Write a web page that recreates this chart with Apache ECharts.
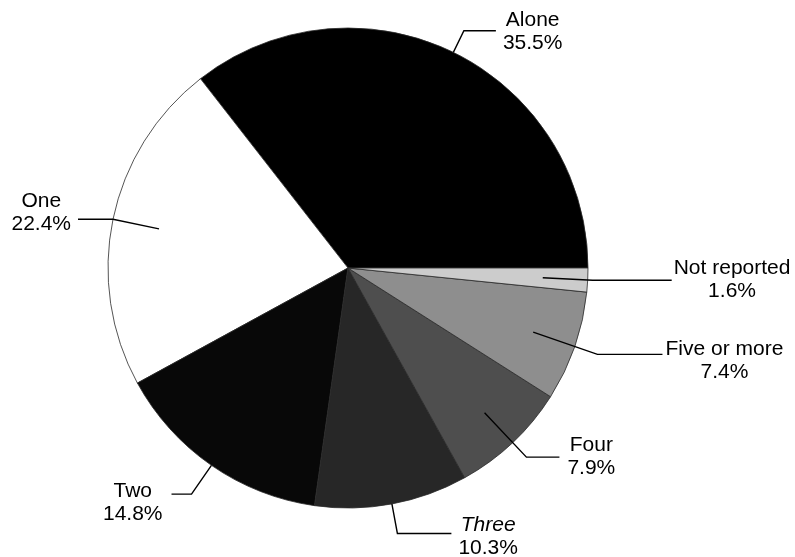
<!DOCTYPE html>
<html>
<head>
<meta charset="utf-8">
<script src="https://cdn.jsdelivr.net/npm/echarts@6/dist/echarts.min.js"></script>
<style>
  html, body { margin: 0; padding: 0; background: #fff; }
  #chart { width: 795px; height: 557px; }
</style>
</head>
<body>
<div id="chart"></div>
<script>
var categories = ['Alone', 'One', 'Two', 'Three', 'Four', 'Five or more', 'Not reported']
var values = [35.5, 22.4, 14.8, 10.3, 7.9, 7.4, 1.6]
var colors = ['#000000', '#ffffff', '#080808', '#272727', '#4e4e4e', '#8e8e8e', '#cccccc']

// leader line: inner radius, outer radius, horizontal run, gap to text, text dy
var leaders = [
    [240, 264, 32, 7, 1],
    [193, 240, 35, 7, -7],
    [240, 275, 20, 9, 9],
    [240, 270, 54, 7, 3],
    [199, 260, 33, 8, 0],
    [196, 264, 65, 3, 6],
    [195, 245, 79, 2, -1]
]

var cx = 348, cy = 268, R = 240

var total = values.reduce(function (a, b) { return a + b }, 0)
var midAngles = []
var acc = 0
values.forEach(function (v) {
    midAngles.push((acc + v / 2) / total * Math.PI * 2)
    acc += v
})

var font = 'Liberation Sans, Arial, sans-serif'

var chart = echarts.init(document.getElementById('chart'))
chart.setOption({
    animation: false,
    series: [{
        // the slices
        type: 'pie',
        center: [cx, cy],
        radius: R,
        startAngle: 0,
        clockwise: false,
        silent: true,
        z: 2,
        itemStyle: {
            borderColor: '#2a2a2a',
            borderWidth: 0.8
        },
        label: { show: false },
        labelLine: { show: false },
        data: categories.map(function (name, i) {
            return { name: name, value: values[i], itemStyle: { color: colors[i] } }
        })
    }, {
        // same pie, invisible, only for labels so leader lines sit on top
        type: 'pie',
        center: [cx, cy],
        radius: R,
        startAngle: 0,
        clockwise: false,
        silent: true,
        z: 5,
        avoidLabelOverlap: false,
        itemStyle: { color: 'rgba(0,0,0,0)', borderWidth: 0 },
        label: {
            show: true,
            position: 'outside',
            formatter: function (p) {
                var name = p.name === 'Three' ? '{it|' + p.name + '}' : '{n|' + p.name + '}'
                return name + '\n{n|' + p.value + '%}'
            },
            rich: {
                n: { fontFamily: font, fontSize: 21, lineHeight: 23, color: '#000' },
                it: { fontFamily: font, fontSize: 21, lineHeight: 23, color: '#000', fontStyle: 'italic' }
            }
        },
        labelLine: {
            show: true,
            lineStyle: { color: '#000', width: 1.4 }
        },
        labelLayout: function (p) {
            var i = p.dataIndex
            var c = leaders[i]
            var a = midAngles[i]
            var dx = Math.cos(a), dy = -Math.sin(a)
            var p0 = [cx + c[0] * dx, cy + c[0] * dy]
            var p1 = [cx + c[1] * dx, cy + c[1] * dy]
            var side = dx >= 0 ? 1 : -1
            var p2 = [p1[0] + side * c[2], p1[1]]
            var w = p.labelRect.width
            return {
                x: p2[0] + side * (c[3] + w / 2),
                y: p2[1] + c[4],
                align: 'center',
                verticalAlign: 'middle',
                labelLinePoints: [p0, p1, p2]
            }
        },
        data: categories.map(function (name, i) {
            return { name: name, value: values[i] }
        })
    }]
})
</script>
</body>
</html>
